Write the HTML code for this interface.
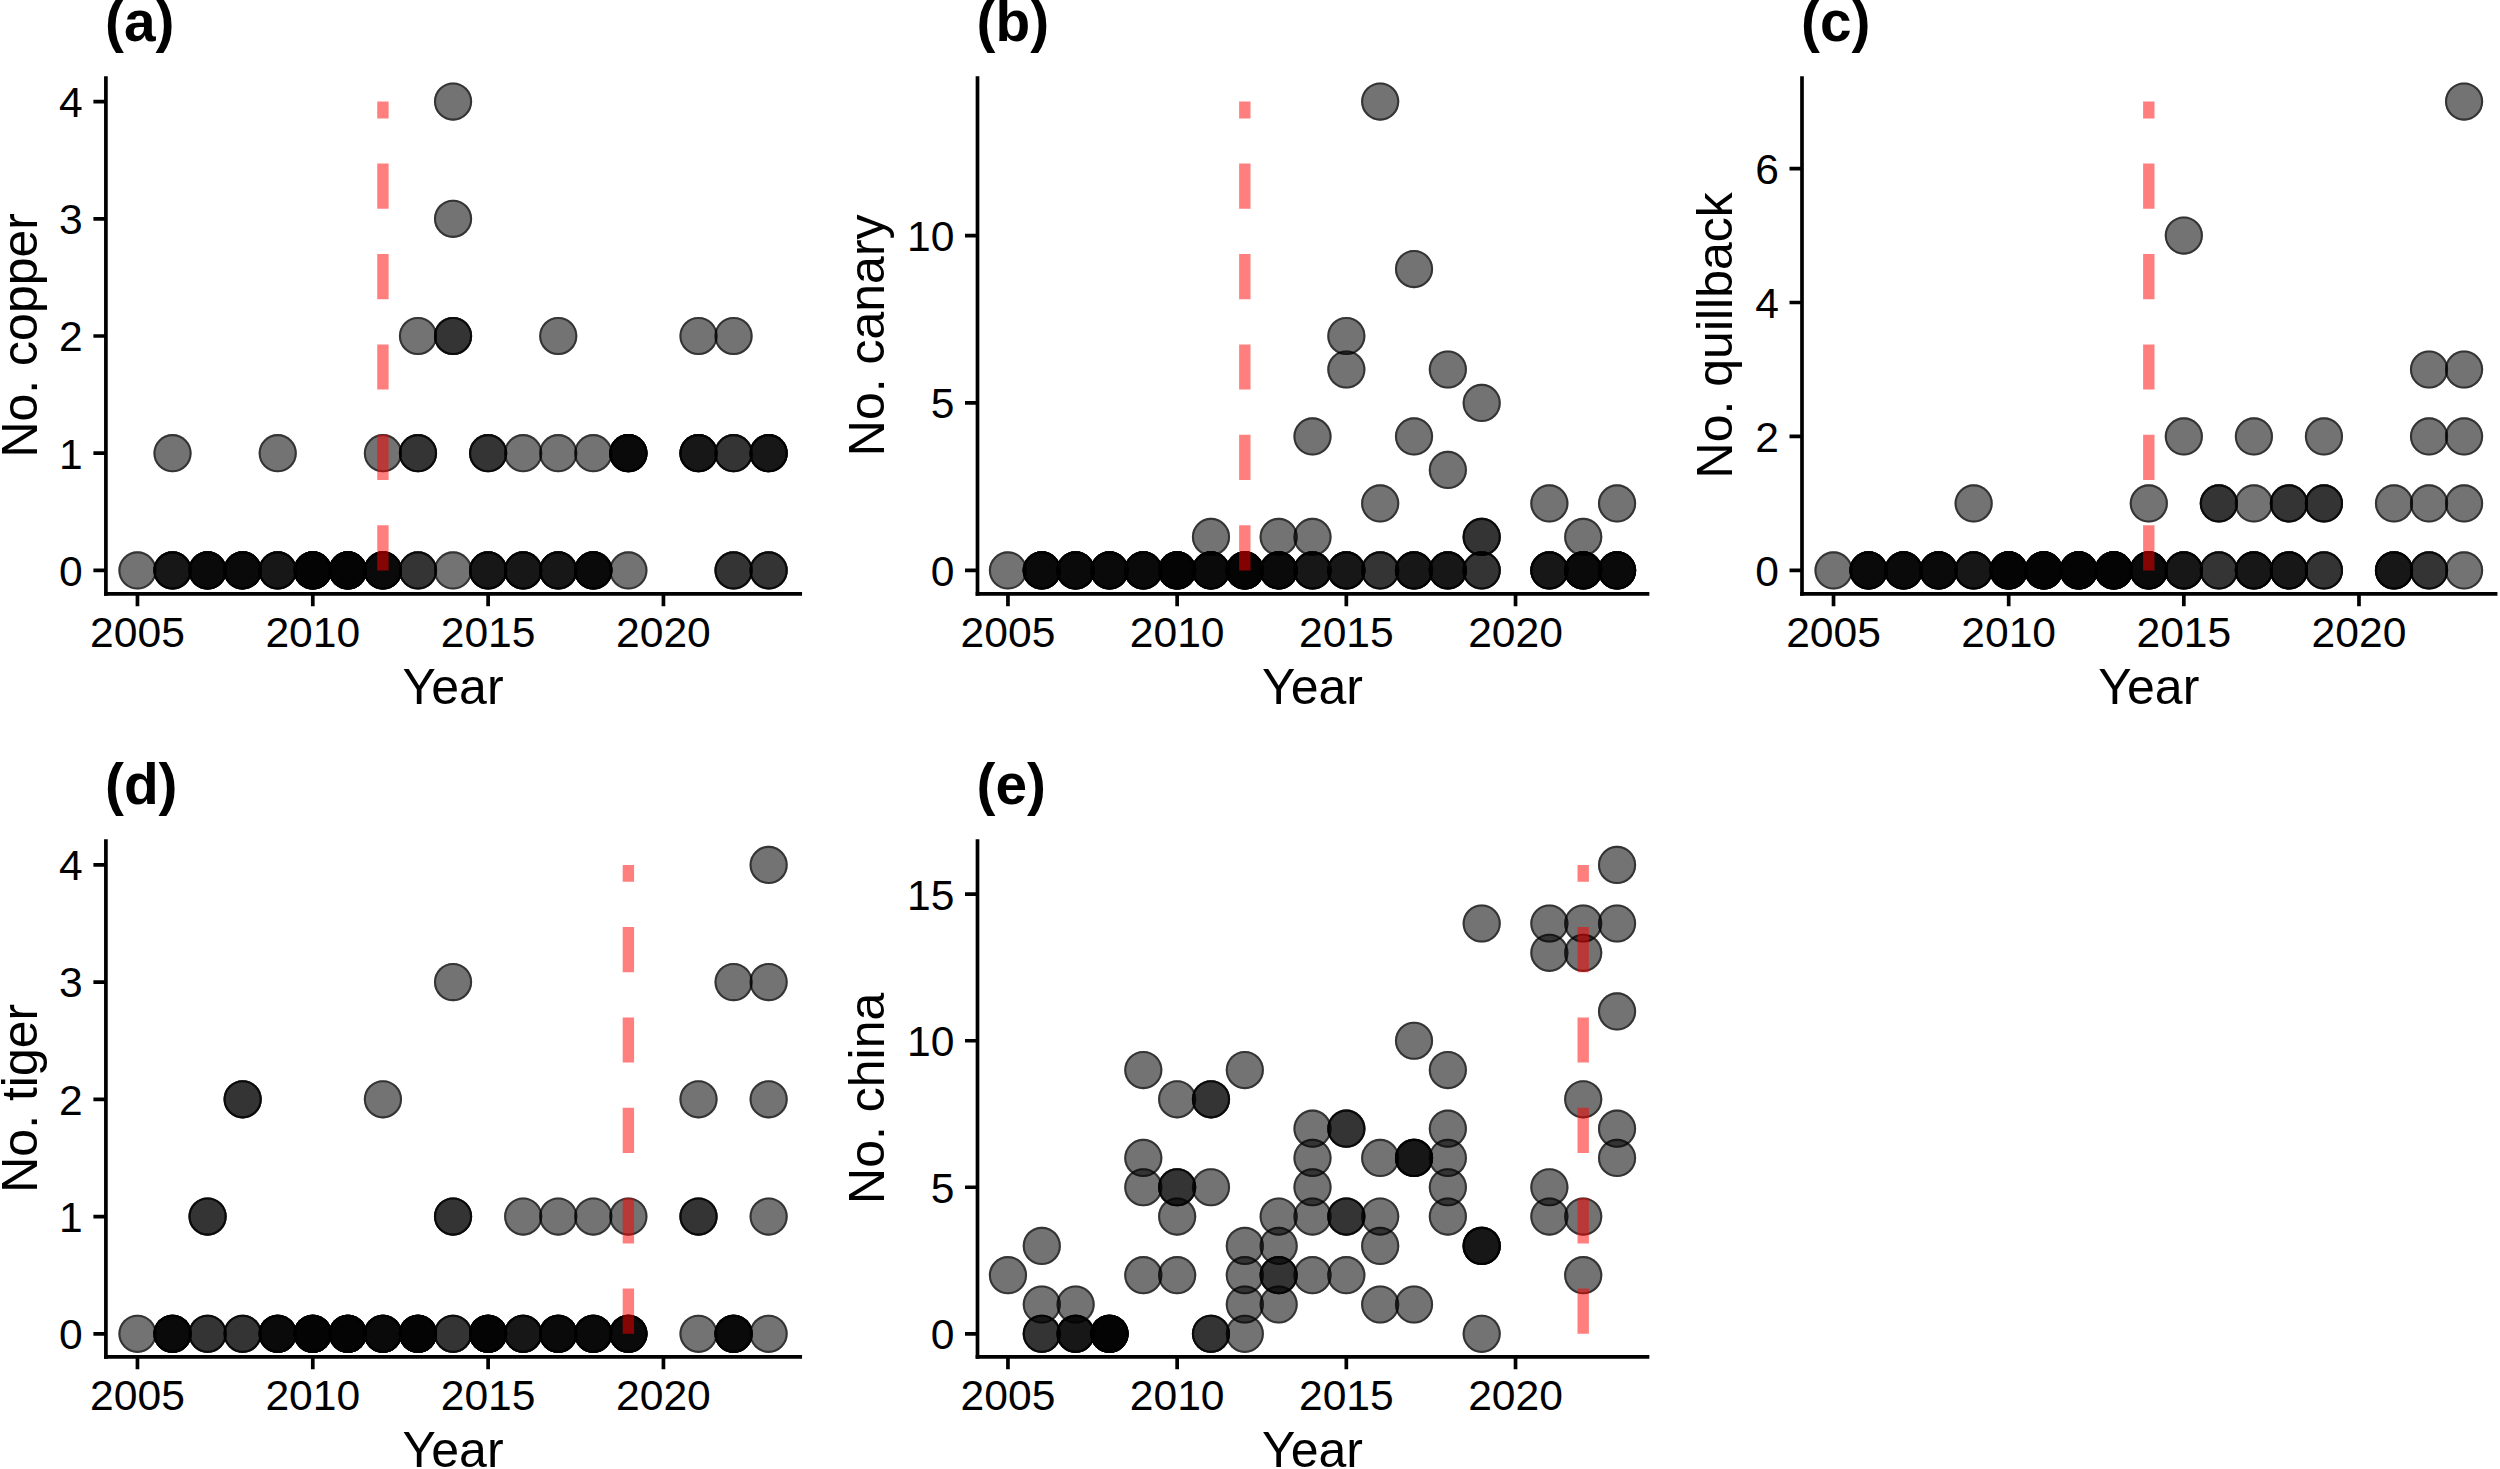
<!DOCTYPE html>
<html lang="en"><head><meta charset="utf-8"><title>Figure</title>
<style>html,body{margin:0;padding:0;background:#fff}body{width:2500px;height:1469px;overflow:hidden}svg{display:block}text{font-family:"Liberation Sans",Arial,Helvetica,sans-serif;fill:#000}.t{font-size:42.6px}.l{font-size:50px}.h{font-size:56.8px;font-weight:bold}.ax{stroke:#000;stroke-width:3.7;fill:none;stroke-linecap:square}.tk{stroke:#000;stroke-width:3.7;fill:none}.rd{stroke:#f00;stroke-opacity:.5;stroke-width:11.4;stroke-dasharray:45.2 45.2;fill:none}</style></head><body>
<svg width="2500" height="1469" viewBox="0 0 2500 1469">
<rect width="2500" height="1469" fill="#fff"/>
<defs><g id="p"><circle r="19.1" fill="#000" fill-opacity="0.55"/><circle r="18.05" fill="none" stroke="#000" stroke-opacity="0.55" stroke-width="2.1"/></g></defs>
<g>
<text class="h" x="105" y="41.2">(a)</text>
<use href="#p" x="137.46" y="570.4"/><use href="#p" x="172.52" y="570.4"/><use href="#p" x="172.52" y="570.4"/><use href="#p" x="172.52" y="570.4"/><use href="#p" x="207.59" y="570.4"/><use href="#p" x="207.59" y="570.4"/><use href="#p" x="207.59" y="570.4"/><use href="#p" x="207.59" y="570.4"/><use href="#p" x="242.66" y="570.4"/><use href="#p" x="242.66" y="570.4"/><use href="#p" x="242.66" y="570.4"/><use href="#p" x="242.66" y="570.4"/><use href="#p" x="277.72" y="570.4"/><use href="#p" x="277.72" y="570.4"/><use href="#p" x="277.72" y="570.4"/><use href="#p" x="312.79" y="570.4"/><use href="#p" x="312.79" y="570.4"/><use href="#p" x="312.79" y="570.4"/><use href="#p" x="312.79" y="570.4"/><use href="#p" x="312.79" y="570.4"/><use href="#p" x="347.85" y="570.4"/><use href="#p" x="347.85" y="570.4"/><use href="#p" x="347.85" y="570.4"/><use href="#p" x="347.85" y="570.4"/><use href="#p" x="347.85" y="570.4"/><use href="#p" x="382.92" y="570.4"/><use href="#p" x="382.92" y="570.4"/><use href="#p" x="382.92" y="570.4"/><use href="#p" x="382.92" y="570.4"/><use href="#p" x="417.98" y="570.4"/><use href="#p" x="417.98" y="570.4"/><use href="#p" x="453.05" y="570.4"/><use href="#p" x="488.12" y="570.4"/><use href="#p" x="488.12" y="570.4"/><use href="#p" x="488.12" y="570.4"/><use href="#p" x="523.18" y="570.4"/><use href="#p" x="523.18" y="570.4"/><use href="#p" x="523.18" y="570.4"/><use href="#p" x="558.25" y="570.4"/><use href="#p" x="558.25" y="570.4"/><use href="#p" x="558.25" y="570.4"/><use href="#p" x="593.31" y="570.4"/><use href="#p" x="593.31" y="570.4"/><use href="#p" x="593.31" y="570.4"/><use href="#p" x="593.31" y="570.4"/><use href="#p" x="628.38" y="570.4"/><use href="#p" x="733.58" y="570.4"/><use href="#p" x="733.58" y="570.4"/><use href="#p" x="768.64" y="570.4"/><use href="#p" x="768.64" y="570.4"/><use href="#p" x="172.52" y="453.2"/><use href="#p" x="277.72" y="453.2"/><use href="#p" x="382.92" y="453.2"/><use href="#p" x="417.98" y="453.2"/><use href="#p" x="417.98" y="453.2"/><use href="#p" x="488.12" y="453.2"/><use href="#p" x="488.12" y="453.2"/><use href="#p" x="523.18" y="453.2"/><use href="#p" x="558.25" y="453.2"/><use href="#p" x="593.31" y="453.2"/><use href="#p" x="628.38" y="453.2"/><use href="#p" x="628.38" y="453.2"/><use href="#p" x="628.38" y="453.2"/><use href="#p" x="628.38" y="453.2"/><use href="#p" x="698.51" y="453.2"/><use href="#p" x="698.51" y="453.2"/><use href="#p" x="698.51" y="453.2"/><use href="#p" x="733.58" y="453.2"/><use href="#p" x="733.58" y="453.2"/><use href="#p" x="768.64" y="453.2"/><use href="#p" x="768.64" y="453.2"/><use href="#p" x="768.64" y="453.2"/><use href="#p" x="417.98" y="336"/><use href="#p" x="453.05" y="336"/><use href="#p" x="453.05" y="336"/><use href="#p" x="558.25" y="336"/><use href="#p" x="698.51" y="336"/><use href="#p" x="733.58" y="336"/><use href="#p" x="453.05" y="218.8"/><use href="#p" x="453.05" y="101.6"/>
<path class="rd" d="M382.92 570.4V101.6"/>
<path class="ax" d="M105.9 78.2V593.8"/>
<path class="ax" d="M105.9 593.8H800.2"/>
<path class="tk" d="M137.46 593.8v12.5M312.79 593.8v12.5M488.12 593.8v12.5M663.44 593.8v12.5M105.9 570.4h-12.5M105.9 453.2h-12.5M105.9 336h-12.5M105.9 218.8h-12.5M105.9 101.6h-12.5"/>
<text class="t" text-anchor="middle" x="137.46" y="647">2005</text>
<text class="t" text-anchor="middle" x="312.79" y="647">2010</text>
<text class="t" text-anchor="middle" x="488.12" y="647">2015</text>
<text class="t" text-anchor="middle" x="663.44" y="647">2020</text>
<text class="t" text-anchor="end" x="82.8" y="585.7">0</text>
<text class="t" text-anchor="end" x="82.8" y="468.5">1</text>
<text class="t" text-anchor="end" x="82.8" y="351.3">2</text>
<text class="t" text-anchor="end" x="82.8" y="234.1">3</text>
<text class="t" text-anchor="end" x="82.8" y="116.9">4</text>
<text class="l" text-anchor="middle" x="453.05" y="703.7">Year</text>
<text class="l" text-anchor="middle" transform="translate(36.7 335.3) rotate(-90)">No. copper</text>
</g>
<g>
<text class="h" x="976.6" y="41.2">(b)</text>
<use href="#p" x="1007.95" y="570.4"/><use href="#p" x="1041.79" y="570.4"/><use href="#p" x="1041.79" y="570.4"/><use href="#p" x="1041.79" y="570.4"/><use href="#p" x="1041.79" y="570.4"/><use href="#p" x="1075.63" y="570.4"/><use href="#p" x="1075.63" y="570.4"/><use href="#p" x="1075.63" y="570.4"/><use href="#p" x="1075.63" y="570.4"/><use href="#p" x="1109.47" y="570.4"/><use href="#p" x="1109.47" y="570.4"/><use href="#p" x="1109.47" y="570.4"/><use href="#p" x="1109.47" y="570.4"/><use href="#p" x="1143.31" y="570.4"/><use href="#p" x="1143.31" y="570.4"/><use href="#p" x="1143.31" y="570.4"/><use href="#p" x="1143.31" y="570.4"/><use href="#p" x="1177.15" y="570.4"/><use href="#p" x="1177.15" y="570.4"/><use href="#p" x="1177.15" y="570.4"/><use href="#p" x="1177.15" y="570.4"/><use href="#p" x="1177.15" y="570.4"/><use href="#p" x="1210.98" y="570.4"/><use href="#p" x="1210.98" y="570.4"/><use href="#p" x="1210.98" y="570.4"/><use href="#p" x="1210.98" y="570.4"/><use href="#p" x="1244.82" y="570.4"/><use href="#p" x="1244.82" y="570.4"/><use href="#p" x="1244.82" y="570.4"/><use href="#p" x="1244.82" y="570.4"/><use href="#p" x="1244.82" y="570.4"/><use href="#p" x="1278.66" y="570.4"/><use href="#p" x="1278.66" y="570.4"/><use href="#p" x="1278.66" y="570.4"/><use href="#p" x="1278.66" y="570.4"/><use href="#p" x="1312.5" y="570.4"/><use href="#p" x="1312.5" y="570.4"/><use href="#p" x="1312.5" y="570.4"/><use href="#p" x="1346.34" y="570.4"/><use href="#p" x="1346.34" y="570.4"/><use href="#p" x="1346.34" y="570.4"/><use href="#p" x="1380.18" y="570.4"/><use href="#p" x="1380.18" y="570.4"/><use href="#p" x="1414.02" y="570.4"/><use href="#p" x="1414.02" y="570.4"/><use href="#p" x="1414.02" y="570.4"/><use href="#p" x="1447.85" y="570.4"/><use href="#p" x="1447.85" y="570.4"/><use href="#p" x="1447.85" y="570.4"/><use href="#p" x="1481.69" y="570.4"/><use href="#p" x="1481.69" y="570.4"/><use href="#p" x="1549.37" y="570.4"/><use href="#p" x="1549.37" y="570.4"/><use href="#p" x="1549.37" y="570.4"/><use href="#p" x="1583.21" y="570.4"/><use href="#p" x="1583.21" y="570.4"/><use href="#p" x="1583.21" y="570.4"/><use href="#p" x="1583.21" y="570.4"/><use href="#p" x="1617.05" y="570.4"/><use href="#p" x="1617.05" y="570.4"/><use href="#p" x="1617.05" y="570.4"/><use href="#p" x="1617.05" y="570.4"/><use href="#p" x="1210.98" y="536.91"/><use href="#p" x="1278.66" y="536.91"/><use href="#p" x="1312.5" y="536.91"/><use href="#p" x="1481.69" y="536.91"/><use href="#p" x="1481.69" y="536.91"/><use href="#p" x="1583.21" y="536.91"/><use href="#p" x="1380.18" y="503.43"/><use href="#p" x="1549.37" y="503.43"/><use href="#p" x="1617.05" y="503.43"/><use href="#p" x="1447.85" y="469.94"/><use href="#p" x="1312.5" y="436.46"/><use href="#p" x="1414.02" y="436.46"/><use href="#p" x="1481.69" y="402.97"/><use href="#p" x="1346.34" y="369.49"/><use href="#p" x="1447.85" y="369.49"/><use href="#p" x="1346.34" y="336"/><use href="#p" x="1414.02" y="269.03"/><use href="#p" x="1380.18" y="101.6"/>
<path class="rd" d="M1244.82 570.4V101.6"/>
<path class="ax" d="M977.5 78.2V593.8"/>
<path class="ax" d="M977.5 593.8H1647.5"/>
<path class="tk" d="M1007.95 593.8v12.5M1177.15 593.8v12.5M1346.34 593.8v12.5M1515.53 593.8v12.5M977.5 570.4h-12.5M977.5 402.97h-12.5M977.5 235.54h-12.5"/>
<text class="t" text-anchor="middle" x="1007.95" y="647">2005</text>
<text class="t" text-anchor="middle" x="1177.15" y="647">2010</text>
<text class="t" text-anchor="middle" x="1346.34" y="647">2015</text>
<text class="t" text-anchor="middle" x="1515.53" y="647">2020</text>
<text class="t" text-anchor="end" x="954.4" y="585.7">0</text>
<text class="t" text-anchor="end" x="954.4" y="418.27">5</text>
<text class="t" text-anchor="end" x="954.4" y="250.84">10</text>
<text class="l" text-anchor="middle" x="1312.5" y="703.7">Year</text>
<text class="l" text-anchor="middle" transform="translate(884.3 335.3) rotate(-90)">No. canary</text>
</g>
<g>
<text class="h" x="1801.1" y="41.2">(c)</text>
<use href="#p" x="1833.53" y="570.4"/><use href="#p" x="1868.56" y="570.4"/><use href="#p" x="1868.56" y="570.4"/><use href="#p" x="1868.56" y="570.4"/><use href="#p" x="1868.56" y="570.4"/><use href="#p" x="1903.59" y="570.4"/><use href="#p" x="1903.59" y="570.4"/><use href="#p" x="1903.59" y="570.4"/><use href="#p" x="1903.59" y="570.4"/><use href="#p" x="1938.62" y="570.4"/><use href="#p" x="1938.62" y="570.4"/><use href="#p" x="1938.62" y="570.4"/><use href="#p" x="1938.62" y="570.4"/><use href="#p" x="1973.65" y="570.4"/><use href="#p" x="1973.65" y="570.4"/><use href="#p" x="1973.65" y="570.4"/><use href="#p" x="2008.68" y="570.4"/><use href="#p" x="2008.68" y="570.4"/><use href="#p" x="2008.68" y="570.4"/><use href="#p" x="2008.68" y="570.4"/><use href="#p" x="2008.68" y="570.4"/><use href="#p" x="2043.71" y="570.4"/><use href="#p" x="2043.71" y="570.4"/><use href="#p" x="2043.71" y="570.4"/><use href="#p" x="2043.71" y="570.4"/><use href="#p" x="2043.71" y="570.4"/><use href="#p" x="2078.74" y="570.4"/><use href="#p" x="2078.74" y="570.4"/><use href="#p" x="2078.74" y="570.4"/><use href="#p" x="2078.74" y="570.4"/><use href="#p" x="2078.74" y="570.4"/><use href="#p" x="2113.77" y="570.4"/><use href="#p" x="2113.77" y="570.4"/><use href="#p" x="2113.77" y="570.4"/><use href="#p" x="2113.77" y="570.4"/><use href="#p" x="2113.77" y="570.4"/><use href="#p" x="2148.8" y="570.4"/><use href="#p" x="2148.8" y="570.4"/><use href="#p" x="2148.8" y="570.4"/><use href="#p" x="2148.8" y="570.4"/><use href="#p" x="2183.83" y="570.4"/><use href="#p" x="2183.83" y="570.4"/><use href="#p" x="2183.83" y="570.4"/><use href="#p" x="2218.86" y="570.4"/><use href="#p" x="2218.86" y="570.4"/><use href="#p" x="2253.89" y="570.4"/><use href="#p" x="2253.89" y="570.4"/><use href="#p" x="2253.89" y="570.4"/><use href="#p" x="2288.92" y="570.4"/><use href="#p" x="2288.92" y="570.4"/><use href="#p" x="2288.92" y="570.4"/><use href="#p" x="2323.95" y="570.4"/><use href="#p" x="2323.95" y="570.4"/><use href="#p" x="2394.01" y="570.4"/><use href="#p" x="2394.01" y="570.4"/><use href="#p" x="2394.01" y="570.4"/><use href="#p" x="2429.04" y="570.4"/><use href="#p" x="2429.04" y="570.4"/><use href="#p" x="2464.07" y="570.4"/><use href="#p" x="1973.65" y="503.43"/><use href="#p" x="2148.8" y="503.43"/><use href="#p" x="2218.86" y="503.43"/><use href="#p" x="2218.86" y="503.43"/><use href="#p" x="2253.89" y="503.43"/><use href="#p" x="2288.92" y="503.43"/><use href="#p" x="2288.92" y="503.43"/><use href="#p" x="2323.95" y="503.43"/><use href="#p" x="2323.95" y="503.43"/><use href="#p" x="2394.01" y="503.43"/><use href="#p" x="2429.04" y="503.43"/><use href="#p" x="2464.07" y="503.43"/><use href="#p" x="2183.83" y="436.46"/><use href="#p" x="2253.89" y="436.46"/><use href="#p" x="2323.95" y="436.46"/><use href="#p" x="2429.04" y="436.46"/><use href="#p" x="2464.07" y="436.46"/><use href="#p" x="2429.04" y="369.49"/><use href="#p" x="2464.07" y="369.49"/><use href="#p" x="2183.83" y="235.54"/><use href="#p" x="2464.07" y="101.6"/>
<path class="rd" d="M2148.8 570.4V101.6"/>
<path class="ax" d="M1802 78.2V593.8"/>
<path class="ax" d="M1802 593.8H2495.6"/>
<path class="tk" d="M1833.53 593.8v12.5M2008.68 593.8v12.5M2183.83 593.8v12.5M2358.98 593.8v12.5M1802 570.4h-12.5M1802 436.46h-12.5M1802 302.51h-12.5M1802 168.57h-12.5"/>
<text class="t" text-anchor="middle" x="1833.53" y="647">2005</text>
<text class="t" text-anchor="middle" x="2008.68" y="647">2010</text>
<text class="t" text-anchor="middle" x="2183.83" y="647">2015</text>
<text class="t" text-anchor="middle" x="2358.98" y="647">2020</text>
<text class="t" text-anchor="end" x="1778.9" y="585.7">0</text>
<text class="t" text-anchor="end" x="1778.9" y="451.76">2</text>
<text class="t" text-anchor="end" x="1778.9" y="317.81">4</text>
<text class="t" text-anchor="end" x="1778.9" y="183.87">6</text>
<text class="l" text-anchor="middle" x="2148.8" y="703.7">Year</text>
<text class="l" text-anchor="middle" transform="translate(1732.3 335.3) rotate(-90)">No. quillback</text>
</g>
<g>
<text class="h" x="105" y="804.2">(d)</text>
<use href="#p" x="137.46" y="1333.8"/><use href="#p" x="172.52" y="1333.8"/><use href="#p" x="172.52" y="1333.8"/><use href="#p" x="172.52" y="1333.8"/><use href="#p" x="172.52" y="1333.8"/><use href="#p" x="207.59" y="1333.8"/><use href="#p" x="207.59" y="1333.8"/><use href="#p" x="242.66" y="1333.8"/><use href="#p" x="242.66" y="1333.8"/><use href="#p" x="277.72" y="1333.8"/><use href="#p" x="277.72" y="1333.8"/><use href="#p" x="277.72" y="1333.8"/><use href="#p" x="277.72" y="1333.8"/><use href="#p" x="312.79" y="1333.8"/><use href="#p" x="312.79" y="1333.8"/><use href="#p" x="312.79" y="1333.8"/><use href="#p" x="312.79" y="1333.8"/><use href="#p" x="312.79" y="1333.8"/><use href="#p" x="347.85" y="1333.8"/><use href="#p" x="347.85" y="1333.8"/><use href="#p" x="347.85" y="1333.8"/><use href="#p" x="347.85" y="1333.8"/><use href="#p" x="347.85" y="1333.8"/><use href="#p" x="382.92" y="1333.8"/><use href="#p" x="382.92" y="1333.8"/><use href="#p" x="382.92" y="1333.8"/><use href="#p" x="382.92" y="1333.8"/><use href="#p" x="417.98" y="1333.8"/><use href="#p" x="417.98" y="1333.8"/><use href="#p" x="417.98" y="1333.8"/><use href="#p" x="417.98" y="1333.8"/><use href="#p" x="417.98" y="1333.8"/><use href="#p" x="453.05" y="1333.8"/><use href="#p" x="453.05" y="1333.8"/><use href="#p" x="488.12" y="1333.8"/><use href="#p" x="488.12" y="1333.8"/><use href="#p" x="488.12" y="1333.8"/><use href="#p" x="488.12" y="1333.8"/><use href="#p" x="488.12" y="1333.8"/><use href="#p" x="523.18" y="1333.8"/><use href="#p" x="523.18" y="1333.8"/><use href="#p" x="523.18" y="1333.8"/><use href="#p" x="558.25" y="1333.8"/><use href="#p" x="558.25" y="1333.8"/><use href="#p" x="558.25" y="1333.8"/><use href="#p" x="558.25" y="1333.8"/><use href="#p" x="593.31" y="1333.8"/><use href="#p" x="593.31" y="1333.8"/><use href="#p" x="593.31" y="1333.8"/><use href="#p" x="593.31" y="1333.8"/><use href="#p" x="628.38" y="1333.8"/><use href="#p" x="628.38" y="1333.8"/><use href="#p" x="628.38" y="1333.8"/><use href="#p" x="628.38" y="1333.8"/><use href="#p" x="698.51" y="1333.8"/><use href="#p" x="733.58" y="1333.8"/><use href="#p" x="733.58" y="1333.8"/><use href="#p" x="733.58" y="1333.8"/><use href="#p" x="733.58" y="1333.8"/><use href="#p" x="768.64" y="1333.8"/><use href="#p" x="207.59" y="1216.58"/><use href="#p" x="207.59" y="1216.58"/><use href="#p" x="453.05" y="1216.58"/><use href="#p" x="453.05" y="1216.58"/><use href="#p" x="523.18" y="1216.58"/><use href="#p" x="558.25" y="1216.58"/><use href="#p" x="593.31" y="1216.58"/><use href="#p" x="628.38" y="1216.58"/><use href="#p" x="698.51" y="1216.58"/><use href="#p" x="698.51" y="1216.58"/><use href="#p" x="768.64" y="1216.58"/><use href="#p" x="242.66" y="1099.35"/><use href="#p" x="242.66" y="1099.35"/><use href="#p" x="382.92" y="1099.35"/><use href="#p" x="698.51" y="1099.35"/><use href="#p" x="768.64" y="1099.35"/><use href="#p" x="453.05" y="982.12"/><use href="#p" x="733.58" y="982.12"/><use href="#p" x="768.64" y="982.12"/><use href="#p" x="768.64" y="864.9"/>
<path class="rd" d="M628.38 1333.8V864.9"/>
<path class="ax" d="M105.9 841.2V1356.8"/>
<path class="ax" d="M105.9 1356.8H800.2"/>
<path class="tk" d="M137.46 1356.8v12.5M312.79 1356.8v12.5M488.12 1356.8v12.5M663.44 1356.8v12.5M105.9 1333.8h-12.5M105.9 1216.58h-12.5M105.9 1099.35h-12.5M105.9 982.12h-12.5M105.9 864.9h-12.5"/>
<text class="t" text-anchor="middle" x="137.46" y="1410">2005</text>
<text class="t" text-anchor="middle" x="312.79" y="1410">2010</text>
<text class="t" text-anchor="middle" x="488.12" y="1410">2015</text>
<text class="t" text-anchor="middle" x="663.44" y="1410">2020</text>
<text class="t" text-anchor="end" x="82.8" y="1349.1">0</text>
<text class="t" text-anchor="end" x="82.8" y="1231.88">1</text>
<text class="t" text-anchor="end" x="82.8" y="1114.65">2</text>
<text class="t" text-anchor="end" x="82.8" y="997.42">3</text>
<text class="t" text-anchor="end" x="82.8" y="880.2">4</text>
<text class="l" text-anchor="middle" x="453.05" y="1466.7">Year</text>
<text class="l" text-anchor="middle" transform="translate(36.7 1098.3) rotate(-90)">No. tiger</text>
</g>
<g>
<text class="h" x="976.6" y="804.2">(e)</text>
<use href="#p" x="1041.79" y="1333.8"/><use href="#p" x="1041.79" y="1333.8"/><use href="#p" x="1075.63" y="1333.8"/><use href="#p" x="1075.63" y="1333.8"/><use href="#p" x="1075.63" y="1333.8"/><use href="#p" x="1109.47" y="1333.8"/><use href="#p" x="1109.47" y="1333.8"/><use href="#p" x="1109.47" y="1333.8"/><use href="#p" x="1109.47" y="1333.8"/><use href="#p" x="1109.47" y="1333.8"/><use href="#p" x="1210.98" y="1333.8"/><use href="#p" x="1210.98" y="1333.8"/><use href="#p" x="1244.82" y="1333.8"/><use href="#p" x="1481.69" y="1333.8"/><use href="#p" x="1041.79" y="1304.49"/><use href="#p" x="1075.63" y="1304.49"/><use href="#p" x="1244.82" y="1304.49"/><use href="#p" x="1278.66" y="1304.49"/><use href="#p" x="1380.18" y="1304.49"/><use href="#p" x="1414.02" y="1304.49"/><use href="#p" x="1007.95" y="1275.19"/><use href="#p" x="1143.31" y="1275.19"/><use href="#p" x="1177.15" y="1275.19"/><use href="#p" x="1244.82" y="1275.19"/><use href="#p" x="1278.66" y="1275.19"/><use href="#p" x="1278.66" y="1275.19"/><use href="#p" x="1312.5" y="1275.19"/><use href="#p" x="1346.34" y="1275.19"/><use href="#p" x="1583.21" y="1275.19"/><use href="#p" x="1041.79" y="1245.88"/><use href="#p" x="1244.82" y="1245.88"/><use href="#p" x="1278.66" y="1245.88"/><use href="#p" x="1380.18" y="1245.88"/><use href="#p" x="1481.69" y="1245.88"/><use href="#p" x="1481.69" y="1245.88"/><use href="#p" x="1481.69" y="1245.88"/><use href="#p" x="1177.15" y="1216.58"/><use href="#p" x="1278.66" y="1216.58"/><use href="#p" x="1312.5" y="1216.58"/><use href="#p" x="1346.34" y="1216.58"/><use href="#p" x="1346.34" y="1216.58"/><use href="#p" x="1380.18" y="1216.58"/><use href="#p" x="1447.85" y="1216.58"/><use href="#p" x="1549.37" y="1216.58"/><use href="#p" x="1583.21" y="1216.58"/><use href="#p" x="1143.31" y="1187.27"/><use href="#p" x="1177.15" y="1187.27"/><use href="#p" x="1177.15" y="1187.27"/><use href="#p" x="1210.98" y="1187.27"/><use href="#p" x="1312.5" y="1187.27"/><use href="#p" x="1447.85" y="1187.27"/><use href="#p" x="1549.37" y="1187.27"/><use href="#p" x="1143.31" y="1157.96"/><use href="#p" x="1312.5" y="1157.96"/><use href="#p" x="1380.18" y="1157.96"/><use href="#p" x="1414.02" y="1157.96"/><use href="#p" x="1414.02" y="1157.96"/><use href="#p" x="1414.02" y="1157.96"/><use href="#p" x="1447.85" y="1157.96"/><use href="#p" x="1617.05" y="1157.96"/><use href="#p" x="1312.5" y="1128.66"/><use href="#p" x="1346.34" y="1128.66"/><use href="#p" x="1346.34" y="1128.66"/><use href="#p" x="1447.85" y="1128.66"/><use href="#p" x="1617.05" y="1128.66"/><use href="#p" x="1177.15" y="1099.35"/><use href="#p" x="1210.98" y="1099.35"/><use href="#p" x="1210.98" y="1099.35"/><use href="#p" x="1583.21" y="1099.35"/><use href="#p" x="1143.31" y="1070.04"/><use href="#p" x="1244.82" y="1070.04"/><use href="#p" x="1447.85" y="1070.04"/><use href="#p" x="1414.02" y="1040.74"/><use href="#p" x="1617.05" y="1011.43"/><use href="#p" x="1549.37" y="952.82"/><use href="#p" x="1583.21" y="952.82"/><use href="#p" x="1481.69" y="923.51"/><use href="#p" x="1549.37" y="923.51"/><use href="#p" x="1583.21" y="923.51"/><use href="#p" x="1617.05" y="923.51"/><use href="#p" x="1617.05" y="864.9"/>
<path class="rd" d="M1583.21 1333.8V864.9"/>
<path class="ax" d="M977.5 841.2V1356.8"/>
<path class="ax" d="M977.5 1356.8H1647.5"/>
<path class="tk" d="M1007.95 1356.8v12.5M1177.15 1356.8v12.5M1346.34 1356.8v12.5M1515.53 1356.8v12.5M977.5 1333.8h-12.5M977.5 1187.27h-12.5M977.5 1040.74h-12.5M977.5 894.21h-12.5"/>
<text class="t" text-anchor="middle" x="1007.95" y="1410">2005</text>
<text class="t" text-anchor="middle" x="1177.15" y="1410">2010</text>
<text class="t" text-anchor="middle" x="1346.34" y="1410">2015</text>
<text class="t" text-anchor="middle" x="1515.53" y="1410">2020</text>
<text class="t" text-anchor="end" x="954.4" y="1349.1">0</text>
<text class="t" text-anchor="end" x="954.4" y="1202.57">5</text>
<text class="t" text-anchor="end" x="954.4" y="1056.04">10</text>
<text class="t" text-anchor="end" x="954.4" y="909.51">15</text>
<text class="l" text-anchor="middle" x="1312.5" y="1466.7">Year</text>
<text class="l" text-anchor="middle" transform="translate(884.3 1098.3) rotate(-90)">No. china</text>
</g>
</svg></body></html>
